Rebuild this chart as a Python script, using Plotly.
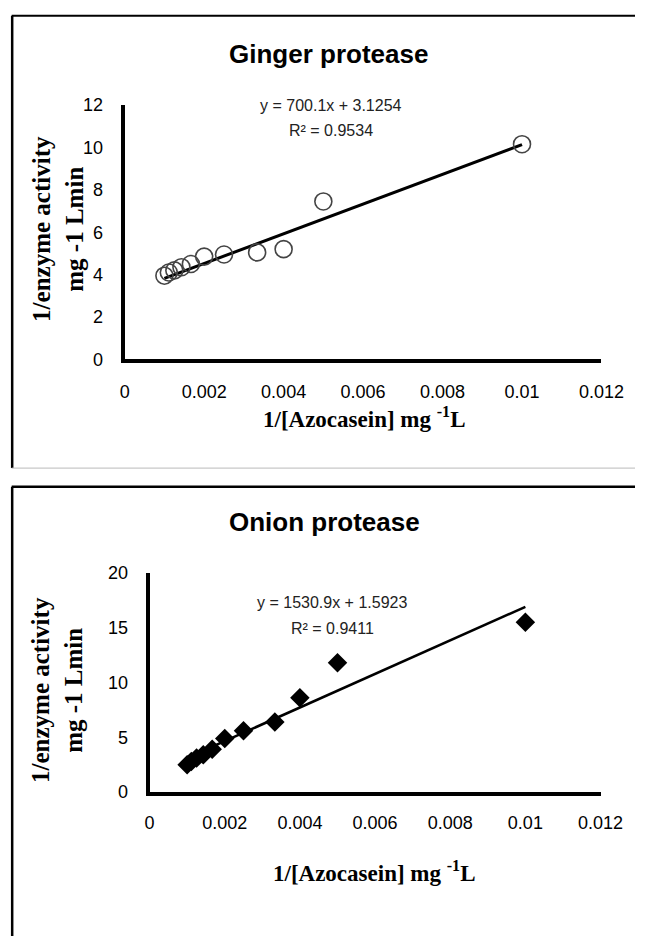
import plotly.graph_objects as go

W, H = 658, 946

# ---- data ----
substrate_inv = [1/1000, 1/900, 1/800, 1/700, 1/600, 1/500, 1/400, 1/300, 1/250, 1/200, 1/100]
ginger_inv_activity = [3.95, 4.1, 4.2, 4.35, 4.5, 4.85, 4.95, 5.05, 5.2, 7.45, 10.15]
onion_inv_activity = [2.5, 2.8, 3.1, 3.4, 3.9, 4.9, 5.6, 6.4, 8.6, 11.8, 15.5]

ginger_slope, ginger_intercept, ginger_r2 = 700.1, 3.1254, 0.9534
onion_slope, onion_intercept, onion_r2 = 1530.9, 1.5923, 0.9411

x_ticks = [0, 0.002, 0.004, 0.006, 0.008, 0.01, 0.012]
x_tick_text = ["0", "0.002", "0.004", "0.006", "0.008", "0.01", "0.012"]
ginger_y_ticks = [0, 2, 4, 6, 8, 10, 12]
onion_y_ticks = [0, 5, 10, 15, 20]

SANS = "Liberation Sans, Arial, sans-serif"
SERIF = "Liberation Serif, Times New Roman, serif"


def px(x):
    return x / W


def py(y):
    return 1 - y / H


fig = go.Figure()

# Ginger
xmin, xmax = min(substrate_inv), max(substrate_inv)
fig.add_trace(go.Scatter(
    x=[xmin, xmax],
    y=[ginger_slope * xmin + ginger_intercept, ginger_slope * xmax + ginger_intercept],
    mode="lines", line=dict(color="black", width=3), xaxis="x", yaxis="y",
    showlegend=False, hoverinfo="skip"))
fig.add_trace(go.Scatter(
    x=substrate_inv, y=ginger_inv_activity, mode="markers",
    marker=dict(symbol="circle-open", size=17, color="#444", line=dict(width=1.6, color="#444")),
    xaxis="x", yaxis="y", showlegend=False, cliponaxis=False))

# Onion
fig.add_trace(go.Scatter(
    x=[xmin, xmax],
    y=[onion_slope * xmin + onion_intercept, onion_slope * xmax + onion_intercept],
    mode="lines", line=dict(color="black", width=2.6), xaxis="x2", yaxis="y2",
    showlegend=False, hoverinfo="skip"))
fig.add_trace(go.Scatter(
    x=substrate_inv, y=onion_inv_activity, mode="markers",
    marker=dict(symbol="diamond", size=15, color="black"),
    xaxis="x2", yaxis="y2", showlegend=False, cliponaxis=False))

axis_common = dict(showgrid=False, zeroline=False, showline=True, linecolor="black",
                   linewidth=4, ticks="", tickfont=dict(family=SANS, size=18, color="black"))

fig.update_layout(
    width=W, height=H, margin=dict(l=0, r=0, t=0, b=0),
    paper_bgcolor="white", plot_bgcolor="white",
    xaxis=dict(domain=[px(125), px(623)], range=[0, 0.012], anchor="y",
               tickvals=x_ticks, ticktext=x_tick_text, ticklabelstandoff=13, **axis_common),
    yaxis=dict(domain=[py(357), py(97)], range=[0, 12], anchor="x",
               tickvals=ginger_y_ticks, ticklabelstandoff=14, **axis_common),
    xaxis2=dict(domain=[px(151), px(622)], range=[0, 0.012], anchor="y2",
                tickvals=x_ticks, ticktext=x_tick_text, ticklabelstandoff=11, **axis_common),
    yaxis2=dict(domain=[py(799), py(575)], range=[0, 20], anchor="x2",
                tickvals=onion_y_ticks, ticklabelstandoff=14, **axis_common),
)

ann = []


def text(x, y, t, size, family, bold=False, angle=0, color="black"):
    if bold:
        t = "<b>" + t + "</b>"
    ann.append(dict(x=px(x), y=py(y), xref="paper", yref="paper", text=t, showarrow=False,
                    xanchor="center", yanchor="middle", textangle=angle,
                    font=dict(family=family, size=size, color=color)))


# Ginger texts
text(338, 45, "Ginger protease", 26, SANS, bold=True)
text(340, 98, f"y = {ginger_slope}x + {ginger_intercept}", 16, SANS, color="#222")
text(340, 123, f"R² = {ginger_r2}", 16, SANS, color="#222")
text(375, 416, "1/[Azocasein] mg <sup>-1</sup>L", 23, SERIF, bold=True)
text(56, 224, "1/enzyme activity<br>mg -1 Lmin", 25, SERIF, bold=True, angle=-90)

# Onion texts
text(334, 523, "Onion protease", 26, SANS, bold=True)
text(342, 605, f"y = {onion_slope}x + {onion_intercept}", 16, SANS, color="#222")
text(342, 632, f"R² = {onion_r2}", 16, SANS, color="#222")
text(386, 880, "1/[Azocasein] mg <sup>-1</sup>L", 23, SERIF, bold=True)
text(55, 695, "1/enzyme activity<br>mg -1 Lmin", 25, SERIF, bold=True, angle=-90)

fig.update_layout(annotations=ann)

# panel frames
shapes = [
    dict(type="line", xref="paper", yref="paper", x0=px(7), x1=1.0, y0=py(6), y1=py(6),
         line=dict(color="black", width=2)),
    dict(type="line", xref="paper", yref="paper", x0=px(7.5), x1=px(7.5), y0=py(6), y1=py(468),
         line=dict(color="black", width=2.5)),
    dict(type="line", xref="paper", yref="paper", x0=px(7), x1=1.0, y0=py(468), y1=py(468),
         line=dict(color="#bbbbbb", width=1)),
    dict(type="line", xref="paper", yref="paper", x0=px(7), x1=1.0, y0=py(487), y1=py(487),
         line=dict(color="black", width=2.5)),
    dict(type="line", xref="paper", yref="paper", x0=px(7.5), x1=px(7.5), y0=py(487), y1=0,
         line=dict(color="black", width=2.5)),
]
fig.update_layout(shapes=shapes)

fig.write_html("out.html")
